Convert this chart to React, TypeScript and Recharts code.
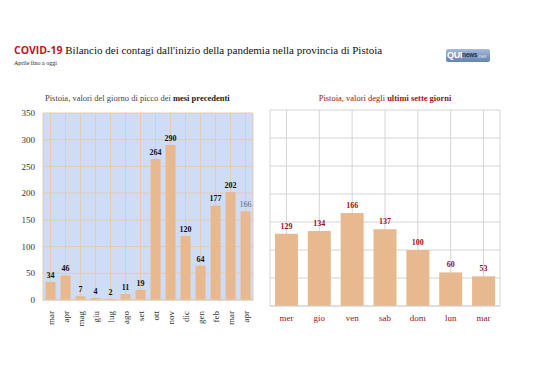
import React from "react";
import { BarChart, Bar, XAxis, YAxis, CartesianGrid, LabelList } from "recharts";

const months = ["mar", "apr", "mag", "giu", "lug", "ago", "set", "ott", "nov", "dic", "gen", "feb", "mar", "apr"];
const peakValues = [34, 46, 7, 4, 2, 11, 19, 264, 290, 120, 64, 177, 202, 166];
const days = ["mer", "gio", "ven", "sab", "dom", "lun", "mar"];
const dayValues = [129, 134, 166, 137, 100, 60, 53];
const yTicks = [0, 50, 100, 150, 200, 250, 300, 350];

const leftData = months.map((m, i) => ({ m, v: peakValues[i] }));
const rightData = days.map((d, i) => ({ d, v: dayValues[i] }));

const SERIF = "Liberation Serif, Times New Roman, serif";
const BAR = "#e8b98e";
const DARKRED = "#9b1119";

const MonthTick = (props: any) => {
  const { x, y, payload } = props;
  return (
    <text
      x={0}
      y={0}
      transform={`translate(${x + 3},${y + 3}) rotate(-90)`}
      textAnchor="end"
      fontFamily={SERIF}
      fontSize={9}
      fill="#333"
    >
      {payload.value}
    </text>
  );
};

const LeftLabel = (props: any) => {
  const { x, y, width, value, index } = props;
  const last = index === peakValues.length - 1;
  return (
    <text
      x={x + width / 2}
      y={y - 4}
      textAnchor="middle"
      fontFamily={SERIF}
      fontSize={8}
      fontWeight={last ? 400 : 700}
      fill={last ? "#666" : "#111"}
    >
      {value}
    </text>
  );
};

const RightLabel = (props: any) => {
  const { x, y, width, value } = props;
  return (
    <text
      x={x + width / 2}
      y={y - 5}
      textAnchor="middle"
      fontFamily={SERIF}
      fontSize={8}
      fontWeight={700}
      fill={DARKRED}
    >
      {value}
    </text>
  );
};

export default function App() {
  return (
    <div style={{ position: "absolute", left: 0, top: 0, width: 538, height: 380, background: "#fff", fontFamily: SERIF, overflow: "hidden" }}>
      <div style={{ position: "absolute", left: 14, top: 43, whiteSpace: "nowrap", fontSize: 11, color: "#111" }}>
        <span style={{ fontFamily: "Open Sans, sans-serif", fontWeight: 700, color: "#c0161c", fontSize: 10.5 }}>COVID-19</span>{" "}
        <span>Bilancio dei contagi dall'inizio della pandemia nella provincia di Pistoia</span>
      </div>
      <div style={{ position: "absolute", left: 14, top: 60, fontSize: 6, color: "#222", whiteSpace: "nowrap" }}>Aprile fino a oggi</div>
      <div style={{ position: "absolute", left: 446, top: 49, width: 44, height: 13, borderRadius: 2, background: "linear-gradient(#a7badb, #6483ad)", fontFamily: "Liberation Sans, sans-serif", color: "#fff", whiteSpace: "nowrap", overflow: "hidden", letterSpacing: -0.3, display: "flex", alignItems: "center", lineHeight: 1 }}>
        <span style={{ fontWeight: 700, fontSize: 9, marginLeft: 1 }}>QUI</span>
        <span style={{ fontWeight: 700, fontSize: 6.5, color: "#22324f" }}>news</span>
        <span style={{ fontSize: 6, color: "#d4deef" }}>.net</span>
      </div>

      <div style={{ position: "absolute", left: 45, top: 93, fontSize: 8.5, color: "#444", whiteSpace: "nowrap" }}>
        Pistoia, valori del giorno di picco dei <b style={{ color: "#222" }}>mesi precedenti</b>
      </div>
      <div style={{ position: "absolute", left: 270, width: 230, top: 93, fontSize: 8.5, color: DARKRED, whiteSpace: "nowrap", textAlign: "center" }}>
        Pistoia, valori degli <b>ultimi sette giorni</b>
      </div>

      <div style={{ position: "absolute", left: 0, top: 0 }}>
        <BarChart width={270} height={340} data={leftData} margin={{ top: 113, right: 17, left: 13, bottom: 0 }} barCategoryGap="17%">
          <CartesianGrid fill="#cfdcf5" stroke="#e3cbb4" strokeWidth={1} />
          <XAxis dataKey="m" height={40} tick={<MonthTick />} tickLine={false} axisLine={{ stroke: "#e3cbb4" }} interval={0} />
          <YAxis domain={[0, 350]} ticks={yTicks} width={30} tickLine={false} axisLine={false} tick={{ fontFamily: SERIF, fontSize: 9, fill: "#333" }} />
          <Bar dataKey="v" fill={BAR} isAnimationActive={false}>
            <LabelList dataKey="v" content={<LeftLabel />} />
          </Bar>
        </BarChart>
      </div>

      <div style={{ position: "absolute", left: 260, top: 0 }}>
        <BarChart width={250} height={326} data={rightData} margin={{ top: 110, right: 10, left: 10, bottom: 0 }} barCategoryGap="15%">
          <CartesianGrid stroke="#d4d4d4" strokeWidth={1} />
          <XAxis dataKey="d" height={20} tickLine={false} axisLine={{ stroke: "#d4d4d4" }} interval={0} tick={{ fontFamily: SERIF, fontSize: 9, fill: DARKRED, dy: 1 }} />
          <YAxis hide domain={[0, 350]} ticks={yTicks} />
          <Bar dataKey="v" fill={BAR} isAnimationActive={false}>
            <LabelList dataKey="v" content={<RightLabel />} />
          </Bar>
        </BarChart>
      </div>
    </div>
  );
}
